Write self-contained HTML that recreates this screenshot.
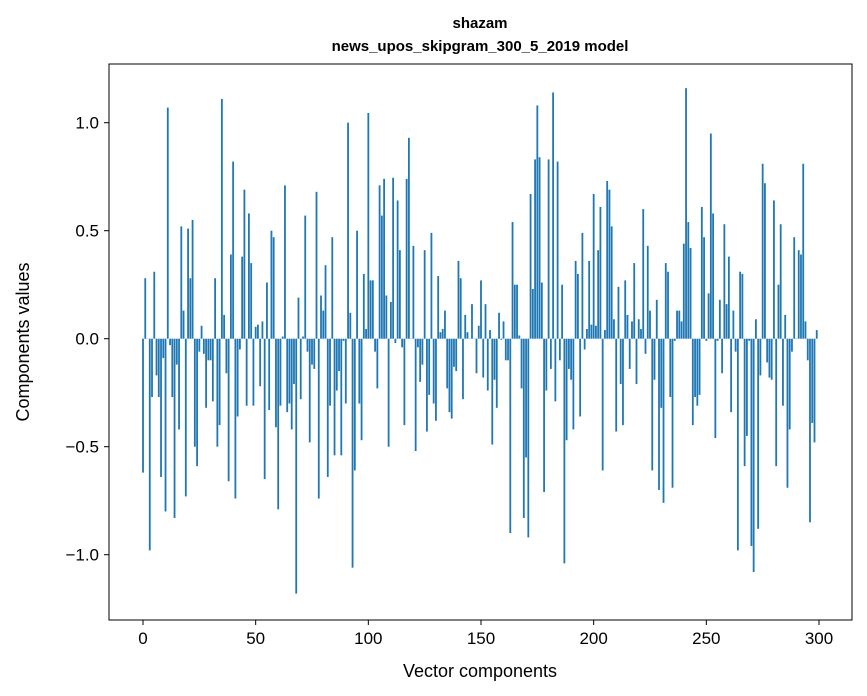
<!DOCTYPE html>
<html><head><meta charset="utf-8"><style>
html,body{margin:0;padding:0;background:#fff;}
svg{display:block;font-family:"Liberation Sans","DejaVu Sans",sans-serif;}
</style></head><body>
<svg id="chart" width="867" height="696" viewBox="0 0 867 696">
<rect x="0" y="0" width="867" height="696" fill="#fff"/>
<text x="480" y="28" text-anchor="middle" font-size="15" font-weight="bold">shazam</text>
<text x="480" y="51" text-anchor="middle" font-size="15" font-weight="bold">news_upos_skipgram_300_5_2019 model</text>
<g id="bars"></g>
<g id="xticks"></g>
<g id="yticks"></g>
<rect x="109" y="64" width="743" height="556" fill="none" stroke="#000" stroke-width="1"/>
<text x="480" y="677" text-anchor="middle" font-size="18">Vector components</text>
<text x="29" y="342" text-anchor="middle" font-size="18" transform="rotate(-90 29 342)">Components values</text>
</svg>
<script>
const values = [
-0.62,0.28,0.0,-0.98,-0.27,0.31,-0.17,-0.27,-0.64,-0.09,
-0.80,1.07,-0.03,-0.27,-0.83,-0.12,-0.42,0.52,0.13,-0.73,
0.51,0.28,0.55,-0.50,-0.59,-0.06,0.06,-0.07,-0.32,-0.10,
-0.10,-0.29,0.28,-0.50,-0.40,1.11,0.11,-0.16,-0.66,0.39,
0.82,-0.74,-0.36,-0.05,0.38,0.69,-0.31,0.58,0.35,-0.31,
0.055,0.065,-0.22,0.08,-0.65,0.26,-0.33,0.50,0.47,-0.41,
-0.79,-0.31,0.01,0.71,-0.34,-0.30,-0.42,-0.21,-1.18,0.19,
-0.28,0.01,0.57,-0.06,-0.48,-0.12,-0.14,0.68,-0.74,0.20,
0.13,0.34,-0.64,-0.31,0.47,-0.54,-0.24,-0.15,-0.54,-0.01,
-0.30,1.0,0.12,-1.06,-0.61,0.50,-0.30,-0.47,0.30,0.045,
1.045,0.27,0.27,-0.06,-0.23,0.71,0.57,0.74,0.20,-0.50,
0.17,0.745,-0.02,0.64,0.41,-0.04,-0.40,0.74,0.93,0.0,
0.43,-0.52,-0.04,-0.20,-0.12,0.41,-0.43,-0.26,0.49,-0.30,
-0.38,0.29,0.03,0.045,0.13,-0.23,-0.34,-0.37,-0.13,-0.15,
0.36,0.28,-0.28,0.11,0.03,0.0,0.16,0.0,-0.16,0.06,
0.27,-0.18,0.16,-0.24,0.04,-0.49,-0.19,-0.32,0.12,-0.005,
0.08,-0.10,-0.10,-0.90,0.54,0.25,0.25,0.015,-0.23,-0.83,
-0.55,-0.92,0.67,0.23,0.83,1.08,0.84,0.26,-0.71,-0.24,
0.83,-0.14,1.14,-0.29,0.82,-0.10,0.25,-1.04,-0.47,-0.14,
-0.19,-0.42,0.36,0.30,-0.36,0.49,-0.05,0.045,0.36,0.065,
0.67,0.06,0.41,0.61,-0.61,0.04,0.73,0.69,0.52,0.09,
-0.43,0.24,-0.21,-0.40,0.27,0.11,-0.14,0.08,0.35,-0.21,
0.09,0.045,0.60,-0.07,0.43,0.13,-0.61,-0.19,0.18,-0.70,
-0.32,-0.76,0.35,0.31,-0.27,-0.69,-0.01,0.13,0.13,0.08,
0.44,1.16,0.54,0.42,-0.40,-0.27,-0.31,-0.26,0.61,0.47,
-0.01,0.21,0.95,0.58,-0.46,-0.01,0.18,-0.16,0.53,0.16,
0.38,-0.34,0.13,-0.06,-0.98,0.31,0.30,-0.59,-0.45,-0.01,
-0.96,-1.08,0.09,-0.88,-0.17,0.81,0.72,-0.11,-0.18,-0.19,
0.64,-0.59,0.25,0.53,-0.31,0.11,-0.69,-0.42,-0.06,0.47,
0.0,0.41,0.39,0.81,0.08,-0.10,-0.85,-0.39,-0.48,0.04
];
const xTickValues = [0,50,100,150,200,250,300];
const xTickLabels = ["0","50","100","150","200","250","300"];
const yTickValues = [-1.0,-0.5,0.0,0.5,1.0];
const yTickLabels = ["\u22121.0","\u22120.5","0.0","0.5","1.0"];

const NS = "http://www.w3.org/2000/svg";
function xScale(i){ return 143 + i*(676/300); }
function yScale(v){ return 338.7 - v*216; }
const barW = 0.8*(676/300);
const gBars = document.getElementById('bars');
values.forEach((v,i)=>{
  const r = document.createElementNS(NS,'rect');
  const y0 = yScale(0), y1 = yScale(v);
  r.setAttribute('x', xScale(i)-barW/2);
  r.setAttribute('y', Math.min(y0,y1));
  r.setAttribute('width', barW);
  r.setAttribute('height', Math.max(Math.abs(y1-y0),0.3));
  r.setAttribute('fill', '#1f77b4');
  
  
  gBars.appendChild(r);
});
const gx = document.getElementById('xticks');
xTickValues.forEach((t,k)=>{
  const x = xScale(t);
  const l = document.createElementNS(NS,'line');
  l.setAttribute('x1',x); l.setAttribute('x2',x);
  l.setAttribute('y1',620); l.setAttribute('y2',625);
  l.setAttribute('stroke','#000');
  
  
  gx.appendChild(l);
  const tx = document.createElementNS(NS,'text');
  tx.setAttribute('x',x); tx.setAttribute('y',644);
  tx.setAttribute('text-anchor','middle');
  tx.setAttribute('font-size','17');
  tx.textContent = xTickLabels[k];
  
  
  gx.appendChild(tx);
});
const gy = document.getElementById('yticks');
yTickValues.forEach((t,k)=>{
  const y = yScale(t);
  const l = document.createElementNS(NS,'line');
  l.setAttribute('x1',104); l.setAttribute('x2',109);
  l.setAttribute('y1',y); l.setAttribute('y2',y);
  l.setAttribute('stroke','#000');
  
  
  gy.appendChild(l);
  const tx = document.createElementNS(NS,'text');
  tx.setAttribute('x',99); tx.setAttribute('y',y+6);
  tx.setAttribute('text-anchor','end');
  tx.setAttribute('font-size','17');
  tx.textContent = yTickLabels[k];
  
  
  gy.appendChild(tx);
});
</script>
</body></html>
